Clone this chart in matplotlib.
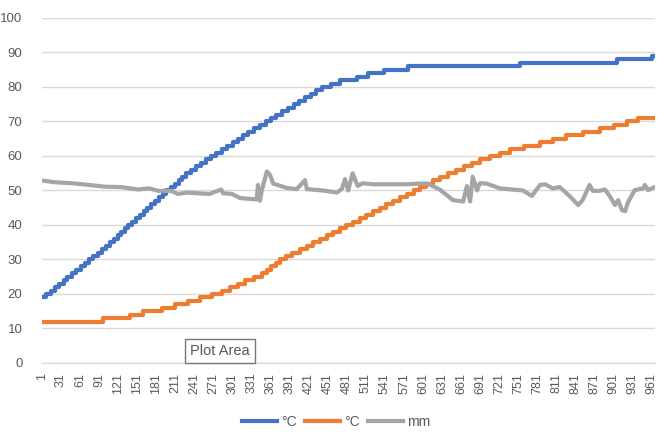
import numpy as np
import matplotlib
matplotlib.use('Agg')
import matplotlib.pyplot as plt

# Кількість вимірів (вісь X: 1 .. 966)
n_points = 966

# Синя серія (°C): індекс, з якого починається рівень, і сам рівень
blue_start = [1, 8, 15, 21, 28, 35, 41, 48, 55, 62, 68, 75, 82, 89, 95, 102, 108, 114, 120, 126,
              131, 137, 143, 149, 155, 161, 167, 173, 179, 185, 191, 197, 204, 210, 216, 222, 228,
              235, 243, 251, 259, 267, 275, 284, 292, 301, 309, 318, 326, 335, 344, 353, 361, 370,
              379, 388, 397, 406, 415, 424, 433, 442, 456, 470, 497, 515, 540, 577, 754, 906, 962]
blue_level = [19, 20, 21, 22, 23, 24, 25, 26, 27, 28, 29, 30, 31, 32, 33, 34, 35, 36, 37, 38,
              39, 40, 41, 42, 43, 44, 45, 46, 47, 48, 49, 50, 51, 52, 53, 54, 55,
              56, 57, 58, 59, 60, 61, 62, 63, 64, 65, 66, 67, 68, 69, 70, 71, 72,
              73, 74, 75, 76, 77, 78, 79, 80, 81, 82, 83, 84, 85, 86, 87, 88, 89]

# Помаранчева серія (°C)
orange_start = [1, 97, 139, 160, 190, 210, 231, 250, 269, 284, 297, 309, 320, 335, 347, 355, 362,
                369, 376, 385, 395, 407, 418, 428, 438, 449, 459, 470, 480, 490, 501, 511, 522,
                533, 543, 553, 564, 575, 586, 596, 606, 617, 627, 640, 652, 665, 678, 690, 706,
                722, 738, 760, 785, 805, 826, 852, 879, 902, 922, 940]
orange_level = [12, 13, 14, 15, 16, 17, 18, 19, 20, 21, 22, 23, 24, 25, 26, 27, 28,
                29, 30, 31, 32, 33, 34, 35, 36, 37, 38, 39, 40, 41, 42, 43, 44,
                45, 46, 47, 48, 49, 50, 51, 52, 53, 54, 55, 56, 57, 58, 59, 60,
                61, 62, 63, 64, 65, 66, 67, 68, 69, 70, 71]

# Сіра серія (mm)
gray_idx = [1, 20, 47, 70, 100, 125, 152, 170, 184, 204, 215, 230, 246, 265, 283, 286, 300,
            313, 339, 341, 344, 347, 355, 360, 365, 387, 402, 415, 418, 443, 465, 473, 478,
            483, 490, 498, 506, 522, 575, 596, 608, 627, 648, 664, 670, 675, 679, 686, 690,
            701, 722, 758, 772, 785, 793, 805, 816, 832, 845, 852, 863, 868, 879, 887, 895,
            903, 908, 914, 919, 923, 934, 947, 950, 955, 966]
gray_val = [52.9, 52.4, 52.1, 51.7, 51.1, 51.0, 50.3, 50.6, 49.9, 49.9, 49.0, 49.4, 49.2, 49.0,
            50.3, 49.2, 49.0, 47.8, 47.4, 51.6, 47.0, 50.0, 55.5, 54.5, 52.0, 50.7, 50.4, 53.0,
            50.4, 50.0, 49.4, 50.4, 53.3, 50.0, 55.0, 51.3, 52.1, 51.8, 51.8, 52.0, 52.0, 50.3,
            47.2, 46.8, 51.3, 46.8, 54.0, 50.0, 52.1, 52.0, 50.6, 50.0, 48.4, 51.6, 51.8, 50.6,
            51.0, 48.3, 45.8, 47.2, 51.6, 49.9, 49.9, 50.3, 48.3, 45.8, 47.2, 44.3, 44.0, 46.4,
            50.1, 50.6, 51.6, 50.1, 51.0]

grey_txt = '#595959'
plt.rcParams['font.family'] = ['Liberation Sans', 'DejaVu Sans']

fig = plt.figure(figsize=(6.66, 4.34), dpi=100)
ax = fig.add_axes([0.063, 0.1636, 0.9205, 0.795])

# Ступінчасті лінії: додаємо кінцеву точку, щоб лінія доходила до краю
bx = blue_start + [n_points]
by = blue_level + [blue_level[-1]]
ox = orange_start + [n_points]
oy = orange_level + [orange_level[-1]]

ax.plot(bx, by, drawstyle='steps-post', color='#4472C4', lw=3, label='°C')
ax.plot(ox, oy, drawstyle='steps-post', color='#ED7D31', lw=3, label='°C')
ax.plot(gray_idx, gray_val, color='#A5A5A5', lw=3, label='mm')

ax.set_xlim(1, n_points)
ax.set_ylim(0, 100)
ax.set_yticks(range(0, 101, 10))
ax.set_xticks(range(1, n_points + 1, 30))
ax.tick_params(axis='x', labelrotation=90, length=0, labelsize=9, colors=grey_txt, pad=7)
ax.tick_params(axis='y', length=0, labelsize=9.5, colors=grey_txt, pad=14)
ax.grid(axis='y', color='#D9D9D9', lw=1)
ax.set_axisbelow(True)
for s in ['top', 'right', 'left']:
    ax.spines[s].set_visible(False)
ax.spines['bottom'].set_color('#D9D9D9')

fig.legend(loc='center', bbox_to_anchor=(0.505, 0.028), ncol=3, frameon=False,
           fontsize=10, labelcolor=grey_txt, handlelength=2.5, columnspacing=0.6,
           handletextpad=0.3)

# Підказка "Plot Area"
fig.text(220 / 666, 1 - 351 / 434, 'Plot Area', ha='center', va='center', fontsize=10.5,
         color='#575757',
         bbox=dict(boxstyle='square,pad=0.35', facecolor='white', edgecolor='#767676', lw=1))

fig.savefig('out.png', dpi=100)
